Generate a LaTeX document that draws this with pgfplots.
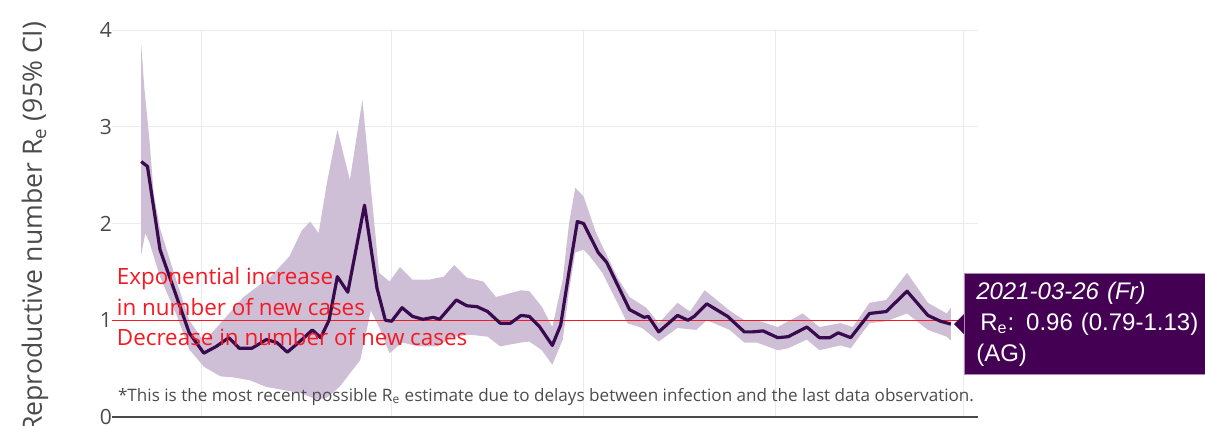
\documentclass[border=0pt]{standalone}
\usepackage{fontspec}
\setmainfont{Open Sans}
\newfontfamily\arialfont{Liberation Sans}
\usepackage{pgfplots}
\usepackage{pgfplotstable}
\pgfplotsset{compat=1.18}
\usepgfplotslibrary{fillbetween}
\definecolor{vpurple}{RGB}{68,1,84}
\definecolor{linecol}{RGB}{58,10,78}
\definecolor{bandcol}{RGB}{206,191,214}
\definecolor{gridcol}{RGB}{235,235,235}
\definecolor{txtgray}{RGB}{75,75,75}
\definecolor{annred}{RGB}{245,25,35}

% x = days since 2020-04-01
\pgfplotstableread{
x y
-29 2.64
-26 2.59
-20 1.73
-12 1.24
-6 0.87
1 0.66
7 0.73
13 0.82
18 0.71
24 0.71
31 0.80
36 0.77
41 0.67
47 0.78
53 0.90
57 0.82
61 1.00
65 1.45
70 1.29
78 2.19
84 1.33
88 1.00
91 0.99
96 1.13
101 1.04
106 1.01
111 1.03
114 1.01
122 1.21
127 1.15
132 1.14
137 1.09
143 0.97
148 0.97
153 1.05
157 1.04
162 0.93
168 0.74
172 0.95
176 1.50
180 2.02
183 2.00
190 1.70
194 1.60
205 1.11
212 1.03
214 1.04
219 0.88
228 1.05
233 1.00
236 1.04
242 1.17
252 1.04
260 0.88
264 0.88
269 0.89
276 0.82
281 0.83
290 0.93
296 0.82
301 0.82
305 0.87
311 0.82
320 1.07
328 1.09
338 1.30
348 1.05
354 0.99
359 0.96
}\meantable

\pgfplotstableread{
x y
-29 3.85
-27.5 3.40
-25 2.85
-23 2.30
-20 1.95
-12 1.40
-6 1.00
1 0.78
9 0.97
20 1.24
33 1.45
42 1.66
48 1.93
52 2.02
56 1.90
60 2.42
65 2.97
71 2.45
77 3.28
81 2.38
85 1.49
90 1.40
95 1.55
101 1.42
109 1.42
116 1.45
121 1.57
127 1.44
135 1.40
141 1.24
153 1.31
157 1.30
163 1.14
168 0.93
173 1.42
176 2.00
179 2.37
183 2.28
189 1.90
199 1.45
205 1.24
213 1.13
219 0.97
228 1.18
234 1.09
241 1.31
253 1.10
260 1.00
266 1.00
276 0.93
288 1.07
296 0.93
306 0.97
312 0.93
320 1.18
328 1.21
338 1.49
348 1.18
357 1.07
359 1.13
}\uppertable

\pgfplotstableread{
x y
-29 1.68
-27 1.90
-25 1.80
-20 1.45
-12 1.05
-6 0.70
1 0.52
9 0.42
15 0.41
23 0.38
31 0.31
39 0.28
47 0.25
55 0.18
60 0.20
66 0.31
76 0.59
81 1.10
85 0.93
90 0.66
96 0.77
104 0.73
113 0.73
120 0.83
129 0.85
137 0.83
143 0.73
153 0.77
157 0.78
163 0.69
168 0.54
173 0.80
176 1.30
179 1.70
183 1.73
186 1.66
192 1.49
204 0.97
211 0.92
219 0.78
228 0.92
237 0.90
242 1.00
253 0.90
260 0.77
266 0.77
276 0.69
281 0.71
290 0.80
296 0.69
306 0.74
311 0.71
320 0.97
328 0.99
338 1.07
348 0.90
357 0.83
359 0.79
}\lowertable

\begin{document}
\begin{tikzpicture}
\begin{axis}[
  at={(56pt,4pt)}, anchor=south west,
  scale only axis, width=433pt, height=193.5pt,
  xmin=-43, xmax=372, ymin=0, ymax=4,
  axis x line*=bottom, axis y line*=left,
  separate axis lines,
  x axis line style={draw=txtgray, line width=1pt, -},
  y axis line style={draw=none, -},
  xtick={0,91,183,275,365}, xticklabels={},
  ytick={0,1,2,3,4},
  major tick length=0pt,
  grid=major, grid style={gridcol, line width=0.5pt},
  tick label style={font=\fontsize{10.5}{12}\selectfont, text=txtgray},
  yticklabel style={xshift=3.5pt},
  /pgf/number format/assume math mode=true,
  clip=false,
  ylabel={Reproductive number R\textsubscript{e} (95\% CI)},
  ylabel style={at={(axis description cs:-0.0889,0.49)}, anchor=center, font=\fontsize{13.3}{15}\selectfont, text=txtgray},
]
\addplot[name path=up, draw=none, forget plot] table[x=x,y=y] {\uppertable};
\addplot[name path=lo, draw=none, forget plot] table[x=x,y=y] {\lowertable};
\addplot[fill=bandcol, draw=none] fill between[of=up and lo];
\addplot[annred, line width=0.55pt] coordinates {(-43,1) (372,1)};
\addplot[linecol, line width=1.6pt, line join=round] table[x=x,y=y] {\meantable};
\node[anchor=west, inner sep=0pt, text=annred, font=\fontsize{11.2}{13}\selectfont] at (axis cs:-40.8,1.43) {Exponential increase};
\node[anchor=west, inner sep=0pt, text=annred, font=\fontsize{11.2}{13}\selectfont] at (axis cs:-40.8,1.14) {in number of new cases};
\node[anchor=west, inner sep=0pt, text=annred, font=\fontsize{11.2}{13}\selectfont] at (axis cs:-40.8,0.83) {Decrease in number of new cases};
\node[anchor=west, inner sep=0pt, text=txtgray, font=\fontsize{8.55}{10}\selectfont] at (axis cs:-40.3,0.207) {*This is the most recent possible R\textsubscript{e} estimate due to delays between infection and the last data observation.};
\coordinate (last) at (axis cs:359,0.96);
\end{axis}
\fill[vpurple] ([xshift=1.5pt]last) -- ([xshift=6.5pt,yshift=5pt]last) -- ([xshift=6.5pt,yshift=-5pt]last) -- cycle;
\node[fill=vpurple, draw=vpurple!45!white, line width=0.4pt, anchor=west, inner xsep=6pt, inner ysep=0pt,
      minimum height=50.5pt, text width=115pt, align=left, text=white,
      font=\arialfont\fontsize{12}{15.5}\selectfont] at ([xshift=6.5pt]last)
  {\textit{2021-03-26 (Fr)}\\ \,R\textsubscript{e}: 0.96 (0.79-1.13)\\(AG)};
\pgfresetboundingbox
\useasboundingbox (0,0) rectangle (602.5pt,212.5pt);
\end{tikzpicture}
\end{document}
